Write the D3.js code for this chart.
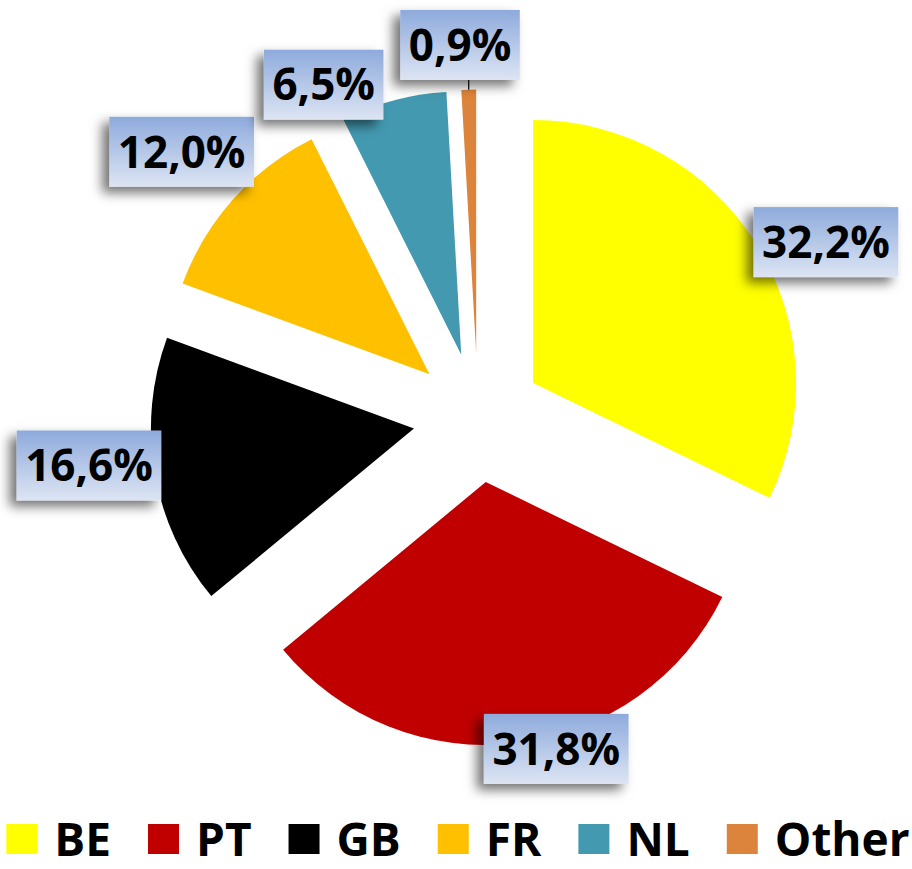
<!DOCTYPE html>
<html>
<head>
<meta charset="utf-8">
<script src="https://cdn.jsdelivr.net/npm/d3@7"></script>
<style>
  body { margin: 0; background: #fff; }
  svg { display: block; font-family: "Open Sans", sans-serif; font-weight: 700; }
</style>
</head>
<body>
<div id="chart"></div>
<script>
// Data
const categories = ["BE", "PT", "GB", "FR", "NL", "Other"];
const shares = [32.2, 31.8, 16.6, 12.0, 6.5, 0.9];
const sliceColors = ["#ffff00", "#c00000", "#000000", "#ffc000", "#4399b0", "#dd843c"];

// Label layout: direction (degrees clockwise from 12 o'clock) and distance from the slice tip
const labelAngles = [64.3, 165.2, 263.5, 311.9, 333, 357];
const labelDistances = [325, 276, 327, 333, 303, 308];

(function () {
  // Dimensions
  const width = 912;
  const height = 869;
  const cx = 478;
  const cy = 417.5;
  const radius = 263;
  const explode = 65;
  const boxHeight = 70;
  const boxPad = 8.5;

  // Format
  const locale = d3.formatLocale({ decimal: ",", thousands: ".", grouping: [3], currency: ["", "€"] });
  const formatPct = (v) => locale.format(".1f")(v) + "%";

  const svg = d3.select("#chart").append("svg")
    .attr("width", width)
    .attr("height", height)
    .attr("viewBox", [0, 0, width, height]);

  const defs = svg.append("defs");
  const grad = defs.append("linearGradient")
    .attr("id", "boxFill")
    .attr("x1", 0).attr("y1", 0).attr("x2", 0).attr("y2", 1);
  grad.append("stop").attr("offset", "0%").attr("stop-color", "#8eaadc");
  grad.append("stop").attr("offset", "100%").attr("stop-color", "#dde5f3");

  const filter = defs.append("filter")
    .attr("id", "shadow")
    .attr("x", "-40%").attr("y", "-40%")
    .attr("width", "180%").attr("height", "190%");
  filter.append("feDropShadow")
    .attr("dx", -7).attr("dy", 6)
    .attr("stdDeviation", 6)
    .attr("flood-color", "#000")
    .attr("flood-opacity", 0.55);

  const data = categories.map((name, i) => ({ name, value: shares[i], color: sliceColors[i], i }));
  const arcs = d3.pie().sort(null).value((d) => d.value)(data);
  const arc = d3.arc().innerRadius(0).outerRadius(radius);

  const toRad = (deg) => (deg * Math.PI) / 180;

  arcs.forEach((a) => {
    const mid = (a.startAngle + a.endAngle) / 2;
    const [ox, oy] = d3.pointRadial(mid, explode);
    a.tip = [cx + ox, cy + oy];
    const [ex, ey] = d3.pointRadial(mid, radius);
    a.edge = [a.tip[0] + ex, a.tip[1] + ey];
    const [lx, ly] = d3.pointRadial(toRad(labelAngles[a.index]), labelDistances[a.index]);
    a.label = [a.tip[0] + lx, a.tip[1] + ly];
  });

  // Slices
  svg.append("g")
    .selectAll("path")
    .data(arcs)
    .join("path")
    .attr("transform", (d) => `translate(${d.tip[0]},${d.tip[1]})`)
    .attr("d", arc)
    .attr("fill", (d) => d.data.color);

  // Labels
  const labels = svg.append("g")
    .selectAll("g")
    .data(arcs)
    .join("g")
    .attr("transform", (d) => `translate(${d.label[0]},${d.label[1]})`);

  const rects = labels.append("rect")
    .attr("fill", "url(#boxFill)")
    .attr("filter", "url(#shadow)");

  const texts = labels.append("text")
    .attr("text-anchor", "middle")
    .attr("dy", "0.357em")
    .attr("font-size", 44)
    .attr("fill", "#000")
    .text((d) => formatPct(d.data.value));

  texts.each(function (d) {
    d.boxWidth = this.getComputedTextLength() + boxPad * 2;
  });
  rects
    .attr("x", (d) => -d.boxWidth / 2)
    .attr("y", -boxHeight / 2)
    .attr("width", (d) => d.boxWidth)
    .attr("height", boxHeight);

  // Leader line for the tiny slice
  arcs.filter((d) => d.data.value < 2).forEach((d) => {
    svg.append("line")
      .attr("x1", d.edge[0])
      .attr("y1", d.edge[1])
      .attr("x2", d.edge[0])
      .attr("y2", d.label[1] + boxHeight / 2)
      .attr("stroke", "#000")
      .attr("stroke-width", 1.2);
  });

  // Legend
  const markerSize = 31;
  const markerGap = 17;
  const itemGap = 37;
  const legendBaseline = 856;
  const legend = svg.append("g");
  const items = legend.selectAll("g")
    .data(data)
    .join("g");
  items.append("rect")
    .attr("y", legendBaseline - 32)
    .attr("width", markerSize)
    .attr("height", markerSize - 1)
    .attr("fill", (d) => d.color);
  const legendTexts = items.append("text")
    .attr("x", markerSize + markerGap)
    .attr("y", legendBaseline)
    .attr("font-size", 46)
    .attr("fill", "#000")
    .text((d) => d.name);

  let xPos = 0;
  legendTexts.each(function (d) {
    d.itemWidth = markerSize + markerGap + this.getComputedTextLength();
  });
  items.attr("transform", (d) => {
    const t = `translate(${xPos},0)`;
    xPos += d.itemWidth + itemGap;
    return t;
  });
  const total = xPos - itemGap;
  legend.attr("transform", `translate(${(width - total) / 2 + 2},0)`);
})();
</script>
</body>
</html>
